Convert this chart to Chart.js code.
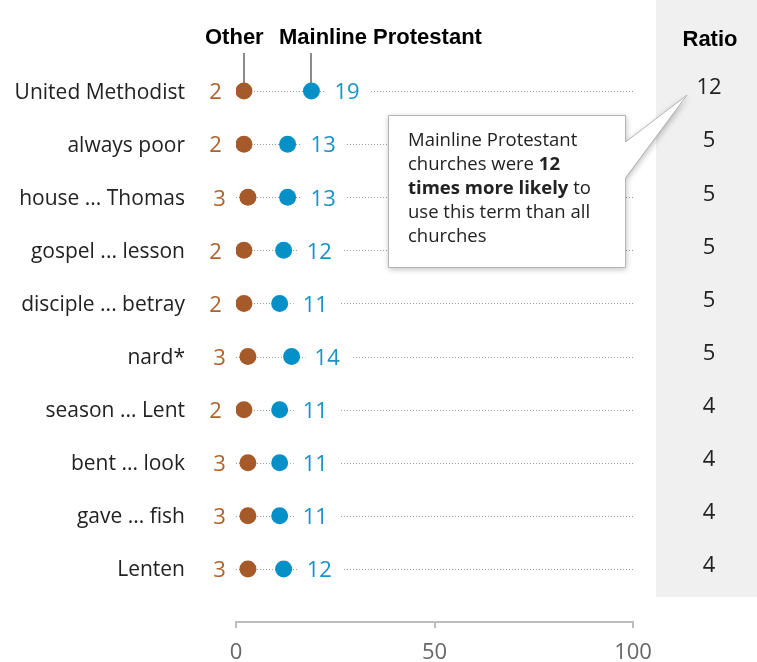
<!DOCTYPE html>
<html><head><meta charset="utf-8">
<script src="https://cdn.jsdelivr.net/npm/chart.js@4.4.1/dist/chart.umd.min.js"></script>
<style>html,body{margin:0;padding:0;background:#fff}#wrap{width:757px;height:662px;position:relative}canvas{display:block}</style>
</head><body><div id="wrap"><canvas id="c" width="757" height="662"></canvas></div>
<script>
const categories = ["United Methodist","always poor","house ... Thomas","gospel ... lesson","disciple ... betray","nard*","season ... Lent","bent ... look","gave ... fish","Lenten"];
const otherValues = [2,2,3,2,2,3,2,3,3,3];
const mainlineValues = [19,13,13,12,11,14,11,11,11,12];
const ratioValues = [12,5,5,5,5,5,4,4,4,4];
const xTicks = [0,50,100];
const seriesNames = ["Other","Mainline Protestant"];
const ratioTitle = "Ratio";
const calloutLines = [
  [["Mainline Protestant",false]],
  [["churches were ",false],["12",true]],
  [["times more likely",true],[" to",false]],
  [["use this term than all",false]],
  [["churches",false]]
];

const FONT = "'Open Sans', sans-serif";
const BOLD = "'Liberation Sans', Arial, sans-serif";
const OTHER_DOT = '#a65a29', MAIN_DOT = '#0591c7';
const OTHER_TXT = '#b0622c', MAIN_TXT = '#1793c6';

const overlay = {
  id:'overlay',
  beforeDraw(chart){
    const c = chart.ctx;
    c.save();
    c.fillStyle = '#f0f0f0';
    c.fillRect(656, 0, 757-656, 597);
    c.restore();
  },
  beforeDatasetsDraw(chart){
    const c = chart.ctx, xs = chart.scales.x, ys = chart.scales.y;
    c.save();
    c.strokeStyle = '#9a9a9a'; c.lineWidth = 1; c.setLineDash([1,2]);
    categories.forEach((_,i)=>{
      const y = Math.round(ys.getPixelForValue(i)) + 0.5;
      c.beginPath(); c.moveTo(xs.getPixelForValue(0), y); c.lineTo(xs.getPixelForValue(100), y); c.stroke();
    });
    c.setLineDash([]);
    c.font = `22px ${FONT}`;
    mainlineValues.forEach((v,i)=>{
      const x = xs.getPixelForValue(v), y = ys.getPixelForValue(i);
      const w = c.measureText(String(v)).width;
      c.fillStyle = '#fff';
      c.fillRect(x + 14, y - 6, w + 20, 12);
    });
    const y0 = ys.getPixelForValue(0);
    c.strokeStyle = '#8a8a8a'; c.lineWidth = 2;
    [otherValues[0], mainlineValues[0]].forEach(v=>{
      const x = Math.round(xs.getPixelForValue(v));
      c.beginPath(); c.moveTo(x, 53); c.lineTo(x, y0 - 8); c.stroke();
    });
    c.restore();
  },
  afterDatasetsDraw(chart){
    const c = chart.ctx, xs = chart.scales.x, ys = chart.scales.y;
    c.save();
    c.textBaseline = 'middle';
    categories.forEach((name,i)=>{
      const y = ys.getPixelForValue(i);
      c.font = `21px ${FONT}`;
      c.fillStyle = '#222'; c.textAlign = 'right';
      c.fillText(name, xs.left - 51, y + 1.5);
      c.font = `22px ${FONT}`;
      c.fillStyle = OTHER_TXT; c.textAlign = 'right';
      c.fillText(String(otherValues[i]), xs.getPixelForValue(otherValues[i]) - 22, y + 2);
      c.fillStyle = MAIN_TXT; c.textAlign = 'left';
      c.fillText(String(mainlineValues[i]), xs.getPixelForValue(mainlineValues[i]) + 23, y + 2);
      c.fillStyle = '#222'; c.textAlign = 'center';
      c.fillText(String(ratioValues[i]), 709, y - 3);
    });
    c.fillStyle = '#000';
    c.font = `bold 22px ${BOLD}`;
    c.textAlign = 'left'; c.textBaseline = 'alphabetic';
    c.fillText(seriesNames[0], 205, 44);
    c.fillText(seriesNames[1], 279, 44);
    c.textAlign = 'center';
    c.fillText(ratioTitle, 710, 46);
    const tipX = 687, tipY = ys.getPixelForValue(0) + 4;
    c.beginPath();
    c.moveTo(388,115); c.lineTo(625,115); c.lineTo(625,142); c.lineTo(tipX,tipY);
    c.lineTo(625,178); c.lineTo(625,267); c.lineTo(388,267); c.closePath();
    c.shadowColor = 'rgba(0,0,0,0.28)'; c.shadowBlur = 6; c.shadowOffsetX = 1; c.shadowOffsetY = 2;
    c.fillStyle = '#fff'; c.fill();
    c.shadowColor = 'transparent';
    c.strokeStyle = '#b4b4b4'; c.lineWidth = 1;
    c.beginPath();
    c.moveTo(625.5,142); c.lineTo(tipX,tipY); c.lineTo(625.5,178);
    c.moveTo(625.5,178); c.lineTo(625.5,267.5); c.lineTo(388.5,267.5); c.lineTo(388.5,115.5); c.lineTo(625.5,115.5); c.lineTo(625.5,142);
    c.stroke();
    c.textAlign = 'left'; c.fillStyle = '#222';
    calloutLines.forEach((segs,li)=>{
      let x = 408; const y = 146 + li*24;
      segs.forEach(([t,b])=>{
        c.font = b ? `bold 18.5px ${FONT}` : `18.5px ${FONT}`;
        c.fillText(t, x, y);
        x += c.measureText(t).width;
      });
    });
    c.restore();
  }
};

new Chart(document.getElementById('c'), {
  type:'scatter',
  data:{datasets:[
    {label:seriesNames[0], data: otherValues.map((v,i)=>({x:v,y:i})), backgroundColor:OTHER_DOT, borderWidth:0, pointRadius:8.5, pointHoverRadius:8.5},
    {label:seriesNames[1], data: mainlineValues.map((v,i)=>({x:v,y:i})), backgroundColor:MAIN_DOT, borderWidth:0, pointRadius:8.5, pointHoverRadius:8.5}
  ]},
  options:{
    responsive:false, animation:false, devicePixelRatio:1,
    layout:{padding:{top:38,right:124,bottom:0,left:0}},
    plugins:{legend:{display:false},tooltip:{enabled:false}},
    scales:{
      x:{type:'linear',min:0,max:100,
        afterBuildTicks:s=>{s.ticks = xTicks.map(v=>({value:v}));},
        grid:{drawOnChartArea:false,drawTicks:true,tickLength:6,color:'#bdbdbd',lineWidth:2},
        border:{display:true,color:'#bdbdbd',width:2},
        ticks:{font:{family:FONT,size:22},color:'#666',padding:12,maxRotation:0,autoSkip:false},
        afterFit:s=>{s.height=40;}
      },
      y:{type:'linear',reverse:true,min:-1,max:10,
        afterBuildTicks:s=>{s.ticks = categories.map((c,i)=>({value:i}));},
        grid:{display:false},
        border:{display:false},
        ticks:{display:false},
        afterFit:s=>{s.width=236;}
      }
    }
  },
  plugins:[overlay]
});
</script></body></html>
